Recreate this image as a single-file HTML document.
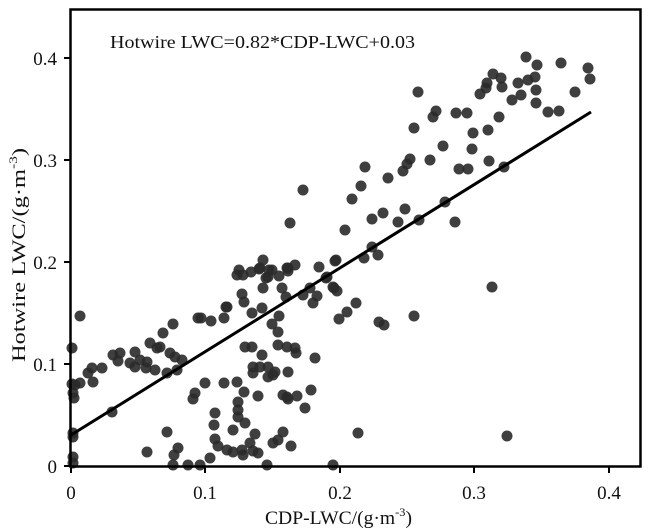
<!DOCTYPE html>
<html><head><meta charset="utf-8"><style>
html,body{margin:0;padding:0;background:#fff;}
svg{display:block;font-family:"Liberation Serif",serif;}
circle{fill:#2a2a2a;fill-opacity:0.9;}
</style></head><body>
<svg width="650" height="530" viewBox="0 0 650 530">
<g>
<circle cx="526" cy="57" r="5.5"/><circle cx="537" cy="65" r="5.5"/><circle cx="561" cy="63" r="5.5"/><circle cx="588" cy="68" r="5.5"/><circle cx="590" cy="79" r="5.5"/>
<circle cx="493" cy="74" r="5.5"/><circle cx="501" cy="78" r="5.5"/><circle cx="502" cy="87" r="5.5"/><circle cx="487" cy="83" r="5.5"/><circle cx="486" cy="88" r="5.5"/>
<circle cx="480" cy="94" r="5.5"/><circle cx="518" cy="83" r="5.5"/><circle cx="528" cy="80" r="5.5"/><circle cx="535" cy="77" r="5.5"/><circle cx="536" cy="90" r="5.5"/>
<circle cx="521" cy="95" r="5.5"/><circle cx="512" cy="100" r="5.5"/><circle cx="536" cy="103" r="5.5"/><circle cx="548" cy="112" r="5.5"/><circle cx="559" cy="111" r="5.5"/>
<circle cx="575" cy="92" r="5.5"/><circle cx="418" cy="92" r="5.5"/><circle cx="436" cy="111" r="5.5"/><circle cx="433" cy="117" r="5.5"/><circle cx="456" cy="113" r="5.5"/>
<circle cx="467" cy="113" r="5.5"/><circle cx="499" cy="117" r="5.5"/><circle cx="414" cy="128" r="5.5"/><circle cx="473" cy="133" r="5.5"/><circle cx="488" cy="130" r="5.5"/>
<circle cx="443" cy="146" r="5.5"/><circle cx="472" cy="149" r="5.5"/><circle cx="430" cy="160" r="5.5"/><circle cx="410" cy="159" r="5.5"/><circle cx="407" cy="164" r="5.5"/>
<circle cx="403" cy="171" r="5.5"/><circle cx="459" cy="169" r="5.5"/><circle cx="468" cy="169" r="5.5"/><circle cx="489" cy="161" r="5.5"/><circle cx="504" cy="167" r="5.5"/>
<circle cx="365" cy="167" r="5.5"/><circle cx="388" cy="178" r="5.5"/><circle cx="361" cy="186" r="5.5"/><circle cx="352" cy="199" r="5.5"/><circle cx="303" cy="190" r="5.5"/>
<circle cx="372" cy="219" r="5.5"/><circle cx="383" cy="213" r="5.5"/><circle cx="405" cy="209" r="5.5"/><circle cx="398" cy="222" r="5.5"/><circle cx="419" cy="220" r="5.5"/>
<circle cx="445" cy="202" r="5.5"/><circle cx="455" cy="222" r="5.5"/><circle cx="345" cy="230" r="5.5"/><circle cx="290" cy="223" r="5.5"/><circle cx="372" cy="247" r="5.5"/>
<circle cx="364" cy="258" r="5.5"/><circle cx="378" cy="255" r="5.5"/><circle cx="336" cy="260" r="5.5"/><circle cx="319" cy="267" r="5.5"/><circle cx="326" cy="278" r="5.5"/>
<circle cx="333" cy="287" r="5.5"/><circle cx="337" cy="291" r="5.5"/><circle cx="310" cy="288" r="5.5"/><circle cx="303" cy="295" r="5.5"/><circle cx="317" cy="296" r="5.5"/>
<circle cx="313" cy="303" r="5.5"/><circle cx="356" cy="303" r="5.5"/><circle cx="347" cy="312" r="5.5"/><circle cx="339" cy="319" r="5.5"/><circle cx="379" cy="322" r="5.5"/>
<circle cx="384" cy="325" r="5.5"/><circle cx="414" cy="316" r="5.5"/><circle cx="295" cy="265" r="5.5"/><circle cx="287" cy="268" r="5.5"/>
<circle cx="288" cy="271" r="5.5"/><circle cx="279" cy="276" r="5.5"/><circle cx="282" cy="288" r="5.5"/><circle cx="286" cy="297" r="5.5"/><circle cx="279" cy="316" r="5.5"/>
<circle cx="272" cy="324" r="5.5"/><circle cx="278" cy="332" r="5.5"/><circle cx="269" cy="270" r="5.5"/><circle cx="263" cy="260" r="5.5"/><circle cx="259" cy="269" r="5.5"/>
<circle cx="251" cy="272" r="5.5"/><circle cx="239" cy="270" r="5.5"/><circle cx="237" cy="275" r="5.5"/><circle cx="243" cy="275" r="5.5"/><circle cx="266" cy="278" r="5.5"/>
<circle cx="268" cy="277" r="5.5"/><circle cx="263" cy="288" r="5.5"/><circle cx="242" cy="294" r="5.5"/><circle cx="244" cy="302" r="5.5"/><circle cx="262" cy="308" r="5.5"/>
<circle cx="252" cy="313" r="5.5"/><circle cx="226" cy="307" r="5.5"/><circle cx="224" cy="318" r="5.5"/><circle cx="211" cy="321" r="5.5"/><circle cx="201" cy="318" r="5.5"/>
<circle cx="260" cy="268" r="5.5"/><circle cx="272" cy="270" r="5.5"/><circle cx="288" cy="268" r="5.5"/><circle cx="335" cy="261" r="5.5"/><circle cx="327" cy="277" r="5.5"/><circle cx="334" cy="288" r="5.5"/><circle cx="227" cy="307" r="5.5"/>
<circle cx="80" cy="316" r="5.5"/><circle cx="72" cy="348" r="5.5"/><circle cx="113" cy="355" r="5.5"/><circle cx="118" cy="361" r="5.5"/><circle cx="120" cy="353" r="5.5"/>
<circle cx="135" cy="352" r="5.5"/><circle cx="140" cy="360" r="5.5"/><circle cx="130" cy="363" r="5.5"/><circle cx="135" cy="367" r="5.5"/><circle cx="147" cy="362" r="5.5"/>
<circle cx="150" cy="343" r="5.5"/><circle cx="157" cy="348" r="5.5"/><circle cx="160" cy="347" r="5.5"/><circle cx="163" cy="333" r="5.5"/><circle cx="173" cy="324" r="5.5"/>
<circle cx="170" cy="353" r="5.5"/><circle cx="175" cy="357" r="5.5"/><circle cx="182" cy="360" r="5.5"/><circle cx="155" cy="370" r="5.5"/><circle cx="167" cy="373" r="5.5"/>
<circle cx="177" cy="370" r="5.5"/><circle cx="146" cy="368" r="5.5"/><circle cx="102" cy="368" r="5.5"/><circle cx="92" cy="368" r="5.5"/><circle cx="88" cy="373" r="5.5"/>
<circle cx="93" cy="382" r="5.5"/><circle cx="80" cy="383" r="5.5"/><circle cx="75" cy="385" r="5.5"/><circle cx="73" cy="393" r="5.5"/><circle cx="74" cy="398" r="5.5"/>
<circle cx="112" cy="412" r="5.5"/><circle cx="73" cy="433" r="5.5"/><circle cx="73" cy="437" r="5.5"/><circle cx="73" cy="457" r="5.5"/><circle cx="73" cy="463" r="5.5"/><circle cx="72" cy="384" r="5.5"/>
<circle cx="147" cy="452" r="5.5"/><circle cx="167" cy="432" r="5.5"/><circle cx="178" cy="448" r="5.5"/><circle cx="174" cy="455" r="5.5"/><circle cx="173" cy="465" r="5.5"/>
<circle cx="188" cy="465" r="5.5"/><circle cx="200" cy="465" r="5.5"/><circle cx="210" cy="458" r="5.5"/><circle cx="198" cy="318" r="5.5"/>
<circle cx="205" cy="383" r="5.5"/><circle cx="224" cy="383" r="5.5"/><circle cx="237" cy="382" r="5.5"/><circle cx="244" cy="392" r="5.5"/><circle cx="258" cy="396" r="5.5"/>
<circle cx="195" cy="393" r="5.5"/><circle cx="193" cy="399" r="5.5"/><circle cx="238" cy="402" r="5.5"/><circle cx="238" cy="410" r="5.5"/><circle cx="238" cy="417" r="5.5"/>
<circle cx="245" cy="423" r="5.5"/><circle cx="233" cy="430" r="5.5"/><circle cx="215" cy="413" r="5.5"/><circle cx="214" cy="425" r="5.5"/><circle cx="215" cy="439" r="5.5"/>
<circle cx="218" cy="446" r="5.5"/><circle cx="227" cy="450" r="5.5"/><circle cx="233" cy="452" r="5.5"/><circle cx="242" cy="450" r="5.5"/><circle cx="243" cy="455" r="5.5"/>
<circle cx="250" cy="443" r="5.5"/><circle cx="255" cy="434" r="5.5"/><circle cx="253" cy="451" r="5.5"/><circle cx="258" cy="453" r="5.5"/><circle cx="245" cy="347" r="5.5"/>
<circle cx="252" cy="347" r="5.5"/><circle cx="262" cy="355" r="5.5"/><circle cx="253" cy="367" r="5.5"/><circle cx="253" cy="373" r="5.5"/><circle cx="260" cy="367" r="5.5"/>
<circle cx="268" cy="367" r="5.5"/><circle cx="275" cy="372" r="5.5"/><circle cx="268" cy="377" r="5.5"/><circle cx="273" cy="375" r="5.5"/><circle cx="288" cy="372" r="5.5"/>
<circle cx="278" cy="345" r="5.5"/><circle cx="287" cy="347" r="5.5"/><circle cx="295" cy="348" r="5.5"/><circle cx="296" cy="353" r="5.5"/><circle cx="315" cy="358" r="5.5"/>
<circle cx="283" cy="395" r="5.5"/><circle cx="287" cy="397" r="5.5"/><circle cx="288" cy="399" r="5.5"/><circle cx="297" cy="396" r="5.5"/><circle cx="311" cy="390" r="5.5"/>
<circle cx="305" cy="408" r="5.5"/><circle cx="283" cy="432" r="5.5"/><circle cx="278" cy="440" r="5.5"/><circle cx="273" cy="443" r="5.5"/><circle cx="291" cy="446" r="5.5"/>
<circle cx="267" cy="465" r="5.5"/><circle cx="333" cy="465" r="5.5"/><circle cx="507" cy="436" r="5.5"/><circle cx="358" cy="433" r="5.5"/><circle cx="492" cy="287" r="5.5"/>
</g>
<line x1="71" y1="435" x2="591" y2="112" stroke="#000" stroke-width="3"/>
<rect x="70.5" y="9.5" width="570" height="457" fill="none" stroke="#000" stroke-width="2.5"/>
<g stroke="#000" stroke-width="2">
<line x1="64" y1="466" x2="71" y2="466"/><line x1="64" y1="364" x2="71" y2="364"/><line x1="64" y1="262" x2="71" y2="262"/><line x1="64" y1="160" x2="71" y2="160"/><line x1="64" y1="58" x2="71" y2="58"/>
<line x1="71" y1="466" x2="71" y2="473"/><line x1="205" y1="466" x2="205" y2="473"/><line x1="340" y1="466" x2="340" y2="473"/><line x1="474" y1="466" x2="474" y2="473"/><line x1="609" y1="466" x2="609" y2="473"/>
</g>
<g font-size="19" fill="#111" text-anchor="end">
<text x="57" y="473">0</text><text x="57" y="371">0.1</text><text x="57" y="269">0.2</text><text x="57" y="167">0.3</text><text x="57" y="65">0.4</text>
</g>
<g font-size="19" fill="#111" text-anchor="middle">
<text x="71" y="499">0</text><text x="205" y="499">0.1</text><text x="340" y="499">0.2</text><text x="474" y="499">0.3</text><text x="609" y="499">0.4</text>
</g>
<text x="265" y="524" font-size="19" fill="#111" textLength="147" lengthAdjust="spacingAndGlyphs">CDP-LWC/(g·m<tspan font-size="12" dy="-8">-3</tspan><tspan dy="8">)</tspan></text>
<text transform="translate(25,362) rotate(-90)" font-size="19" fill="#111" textLength="214" lengthAdjust="spacingAndGlyphs">Hotwire LWC/(g·m<tspan font-size="12" dy="-8">-3</tspan><tspan dy="8">)</tspan></text>
<text x="110" y="48" font-size="18" fill="#111" textLength="305" lengthAdjust="spacingAndGlyphs">Hotwire LWC=0.82*CDP-LWC+0.03</text>
</svg>
</body></html>
